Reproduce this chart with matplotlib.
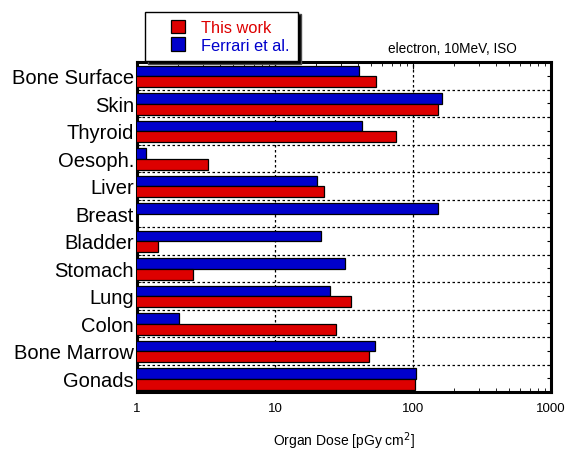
import matplotlib
matplotlib.use("Agg")
import matplotlib.pyplot as plt
import numpy as np
from matplotlib.ticker import LogLocator, NullFormatter, FixedLocator
from matplotlib.legend_handler import HandlerPatch, update_from_first_child
from matplotlib.patches import Rectangle
from matplotlib.container import BarContainer

plt.rcParams['font.family'] = ['Liberation Sans', 'DejaVu Sans']

# organs, top to bottom
organs = ["Bone Surface", "Skin", "Thyroid", "Oesoph.", "Liver", "Breast",
          "Bladder", "Stomach", "Lung", "Colon", "Bone Marrow", "Gonads"]
# dose values [pGy cm^2]
this_work = [54, 152, 75, 3.25, 22.5, np.nan, 1.43, 2.57, 35.5, 27.7, 48, 104]
ferrari = [40.7, 163, 42.4, 1.17, 20.2, 153, 21.5, 32.1, 25, 2.03, 53, 106]
x_ticks = [1, 10, 100, 1000]
x_ticklabels = ["1", "10", "100", "1000"]

red = "#DD0000"
blue = "#0000CC"

fig = plt.figure(figsize=(5.68, 4.52), dpi=100)
ax = fig.add_axes([0.241, 0.1305, 0.729, 0.730])

y = np.arange(len(organs))
h = 0.39
ax.barh(y - 0.17, ferrari, height=h, left=0, color=blue, edgecolor="black", linewidth=0.9, label="Ferrari et al.", zorder=3)
ax.barh(y + 0.22, this_work, height=h, left=0, color=red, edgecolor="black", linewidth=0.9, label="This work", zorder=3)

ax.set_xscale("log")
ax.set_xlim(1, 1000)
ax.set_ylim(len(organs) - 0.5, -0.5)

ax.set_xticks(x_ticks)
ax.set_xticklabels(x_ticklabels, fontsize=9.5)
ax.xaxis.set_minor_locator(LogLocator(base=10, subs=np.arange(2, 10)))
ax.xaxis.set_minor_formatter(NullFormatter())

ax.set_yticks(y)
ax.set_yticklabels(organs, fontsize=14.5)
ax.yaxis.set_minor_locator(FixedLocator(np.arange(len(organs) + 1) - 0.5))

ax.tick_params(axis="x", which="major", direction="in", top=True, length=5, pad=7)
ax.tick_params(axis="x", which="minor", direction="in", top=True, length=3)
ax.tick_params(axis="y", which="both", direction="in", right=True, left=True, length=3, pad=2)

ax.grid(True, which="major", axis="x", linestyle=(0, (2, 2)), color="black", linewidth=0.9)
ax.grid(True, which="minor", axis="y", linestyle=(0, (2, 2)), color="black", linewidth=0.9)
ax.set_axisbelow(True)

for s in ax.spines.values():
    s.set_linewidth(2.2)

ax.set_xlabel("Organ Dose [pGy cm$^2$]", fontsize=10, labelpad=11)

ax.text(0.918, 1.02, "electron, 10MeV, ISO", transform=ax.transAxes, ha="right", va="bottom", fontsize=9.8)


# square legend marker placed at the right end of the handle box
def square(legend, orig_handle, xdescent, ydescent, width, height, fontsize):
    return Rectangle((-xdescent + width - height, -ydescent), height, height)


handles, labels = ax.get_legend_handles_labels()
leg = fig.legend(handles[::-1], labels[::-1], loc="upper left", bbox_to_anchor=(0.256, 0.972),
                 fontsize=11.8, frameon=True, fancybox=False, edgecolor="black",
                 handlelength=1.9, handleheight=0.9, labelspacing=0.12, borderpad=0.5,
                 handletextpad=1.0, borderaxespad=0,
                 handler_map={BarContainer: HandlerPatch(patch_func=square, update_func=update_from_first_child)},
                 shadow={'facecolor': 'black', 'alpha': 1})
leg.get_frame().set_linewidth(1.0)
for t, c in zip(leg.get_texts(), [red, blue]):
    t.set_color(c)

fig.savefig("out.png", dpi=100)
